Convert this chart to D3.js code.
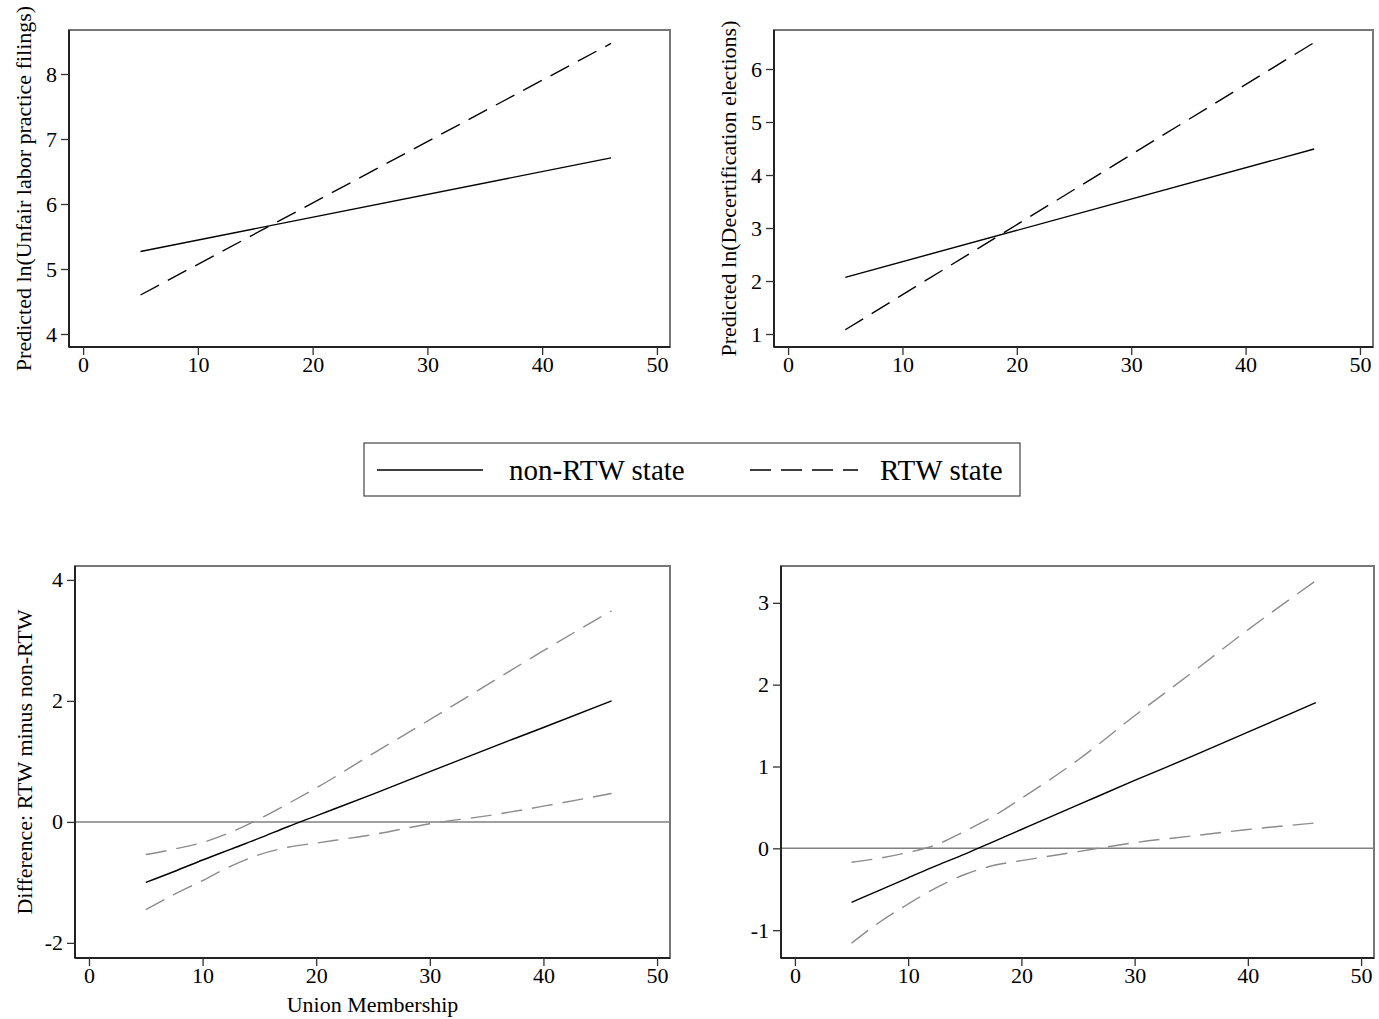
<!DOCTYPE html>
<html>
<head>
<meta charset="utf-8">
<script src="https://cdn.jsdelivr.net/npm/d3@7"></script>
<style>
  body { margin: 0; background: #fff; }
  text { font-family: "Liberation Serif", "Times New Roman", serif; }
</style>
</head>
<body>
<div class="container"></div>
<script>
// union membership values where the predictions were drawn
var xTicks = [0, 10, 20, 30, 40, 50];
var lineX = [5, 46];

// top panels: predicted values (straight lines)
var ulpNonRTW = [5.27, 6.71];
var ulpRTW = [4.60, 8.47];
var ulpTicks = [4, 5, 6, 7, 8];

var decertNonRTW = [2.07, 4.49];
var decertRTW = [1.08, 6.50];
var decertTicks = [1, 2, 3, 4, 5, 6];

// bottom panels: difference RTW minus non-RTW with confidence bands
var diffX = [5, 7.5, 10, 12.5, 15, 17.5, 20, 25, 30, 35, 40, 46];

var ulpDiff = [-1.00, -0.82, -0.63, -0.45, -0.27, -0.08, 0.10, 0.46, 0.83, 1.20, 1.56, 2.00];
var ulpUpper = [-0.54, -0.45, -0.34, -0.17, 0.05, 0.30, 0.56, 1.13, 1.69, 2.26, 2.83, 3.49];
var ulpLower = [-1.45, -1.20, -0.97, -0.73, -0.54, -0.42, -0.35, -0.21, -0.03, 0.10, 0.26, 0.47];
var ulpDiffTicks = [-2, 0, 2, 4];

var decertDiff = [-0.66, -0.51, -0.36, -0.21, -0.07, 0.08, 0.23, 0.53, 0.83, 1.12, 1.42, 1.78];
var decertUpper = [-0.17, -0.12, -0.05, 0.045, 0.21, 0.39, 0.61, 1.08, 1.62, 2.14, 2.67, 3.27];
var decertLower = [-1.16, -0.90, -0.68, -0.48, -0.32, -0.21, -0.15, -0.04, 0.07, 0.15, 0.23, 0.31];
var decertDiffTicks = [-1, 0, 1, 2, 3];

var legendLabels = ["non-RTW state", "RTW state"];

var svgWidth = 1379;
var svgHeight = 1019;
var xDomain = [-1.23, 51.14];
var serif = "Liberation Serif";

var svg = d3.select(".container")
    .append("svg")
    .attr("width", svgWidth)
    .attr("height", svgHeight);

svg.append("rect")
    .attr("width", svgWidth)
    .attr("height", svgHeight)
    .attr("fill", "#fff");

function zip(xs, ys) {
    return xs.map((x, i) => ({ x: x, y: ys[i] }));
}

var panels = [
    {
        box: { left: 69, right: 670, top: 30, bottom: 347 },
        yDomain: [3.8, 8.677], yTicks: ulpTicks,
        yTitle: "Predicted ln(Unfair labor practice filings)", yTitleX: 31,
        lines: [
            { data: zip(lineX, ulpNonRTW), color: "#000", dash: null },
            { data: zip(lineX, ulpRTW), color: "#000", dash: "21,10" }
        ]
    },
    {
        box: { left: 774, right: 1373, top: 30, bottom: 347 },
        yDomain: [0.755, 6.736], yTicks: decertTicks,
        yTitle: "Predicted ln(Decertification elections)", yTitleX: 736,
        lines: [
            { data: zip(lineX, decertNonRTW), color: "#000", dash: null },
            { data: zip(lineX, decertRTW), color: "#000", dash: "21,10" }
        ]
    },
    {
        box: { left: 75, right: 670, top: 566, bottom: 958 },
        yDomain: [-2.25, 4.23], yTicks: ulpDiffTicks, zeroLine: true,
        yTitle: "Difference: RTW minus non-RTW", yTitleX: 32,
        xTitle: "Union Membership",
        lines: [
            { data: zip(diffX, ulpUpper), color: "#8c8c8c", dash: "21,10" },
            { data: zip(diffX, ulpLower), color: "#8c8c8c", dash: "21,10" },
            { data: zip(diffX, ulpDiff), color: "#000", dash: null }
        ]
    },
    {
        box: { left: 781, right: 1374, top: 566, bottom: 958 },
        yDomain: [-1.34, 3.45], yTicks: decertDiffTicks, zeroLine: true,
        lines: [
            { data: zip(diffX, decertUpper), color: "#8c8c8c", dash: "21,10" },
            { data: zip(diffX, decertLower), color: "#8c8c8c", dash: "21,10" },
            { data: zip(diffX, decertDiff), color: "#000", dash: null }
        ]
    }
];

panels.forEach(function (p) {
    var b = p.box;
    var x = d3.scaleLinear().domain(xDomain).range([b.left, b.right]);
    var y = d3.scaleLinear().domain(p.yDomain).range([b.bottom, b.top]);
    var g = svg.append("g");

    // plot region border
    g.append("rect")
        .attr("x", b.left)
        .attr("y", b.top)
        .attr("width", b.right - b.left)
        .attr("height", b.bottom - b.top)
        .attr("fill", "none")
        .attr("stroke", "#777")
        .attr("stroke-width", 2);

    if (p.zeroLine) {
        g.append("line")
            .attr("x1", b.left).attr("x2", b.right)
            .attr("y1", y(0)).attr("y2", y(0))
            .attr("stroke", "#808080")
            .attr("stroke-width", 1.5);
    }

    var line = d3.line()
        .x(d => x(d.x))
        .y(d => y(d.y))
        .curve(d3.curveMonotoneX);

    p.lines.forEach(function (l) {
        g.append("path")
            .datum(l.data)
            .attr("d", line)
            .attr("fill", "none")
            .attr("stroke", l.color)
            .attr("stroke-width", 1.4)
            .attr("stroke-dasharray", l.dash);
    });

    // plain hyphen minus like the original, no decimals
    var fmt = d => String(d);
    var bottomAxis = d3.axisBottom(x).tickValues(xTicks).tickFormat(fmt).tickSize(8).tickPadding(1);
    var leftAxis = d3.axisLeft(y).tickValues(p.yTicks).tickFormat(fmt).tickSize(8).tickPadding(4);

    var xa = g.append("g")
        .attr("transform", `translate(0, ${b.bottom})`)
        .call(bottomAxis);
    var ya = g.append("g")
        .attr("transform", `translate(${b.left}, 0)`)
        .call(leftAxis);

    [xa, ya].forEach(function (a) {
        a.attr("font-family", serif);
        a.select(".domain").attr("stroke", "#222").attr("stroke-width", 2);
        a.selectAll(".tick line").attr("stroke", "#333").attr("stroke-width", 1.3);
        a.selectAll(".tick text")
            .attr("fill", "#000")
            .attr("font-size", "22px")
            .attr("font-family", serif);
    });
    // domain paths include outer ticks; redraw as plain lines
    xa.select(".domain").attr("d", `M${b.left},0H${b.right}`);
    ya.select(".domain").attr("d", `M0,${b.top}V${b.bottom}`);

    if (p.yTitle) {
        g.append("text")
            .attr("transform", `translate(${p.yTitleX}, ${(b.top + b.bottom) / 2}) rotate(-90)`)
            .attr("text-anchor", "middle")
            .attr("font-family", serif)
            .attr("font-size", "22px")
            .attr("fill", "#000")
            .text(p.yTitle);
    }
    if (p.xTitle) {
        g.append("text")
            .attr("x", (b.left + b.right) / 2)
            .attr("y", 1012)
            .attr("text-anchor", "middle")
            .attr("font-family", serif)
            .attr("font-size", "22px")
            .attr("fill", "#000")
            .text(p.xTitle);
    }
});

// legend
var legend = svg.append("g");
legend.append("rect")
    .attr("x", 364).attr("y", 443)
    .attr("width", 656).attr("height", 53)
    .attr("fill", "none")
    .attr("stroke", "#444")
    .attr("stroke-width", 1.2);

var legendItems = [
    { label: legendLabels[0], dash: null, x1: 377, x2: 483, tx: 509 },
    { label: legendLabels[1], dash: "21,10", x1: 750, x2: 858, tx: 880 }
];
legendItems.forEach(function (it) {
    legend.append("line")
        .attr("x1", it.x1).attr("x2", it.x2)
        .attr("y1", 470).attr("y2", 470)
        .attr("stroke", "#000")
        .attr("stroke-width", 1.4)
        .attr("stroke-dasharray", it.dash);
    legend.append("text")
        .attr("x", it.tx)
        .attr("y", 480)
        .attr("font-family", serif)
        .attr("font-size", "29px")
        .attr("fill", "#000")
        .text(it.label);
});
</script>
</body>
</html>
